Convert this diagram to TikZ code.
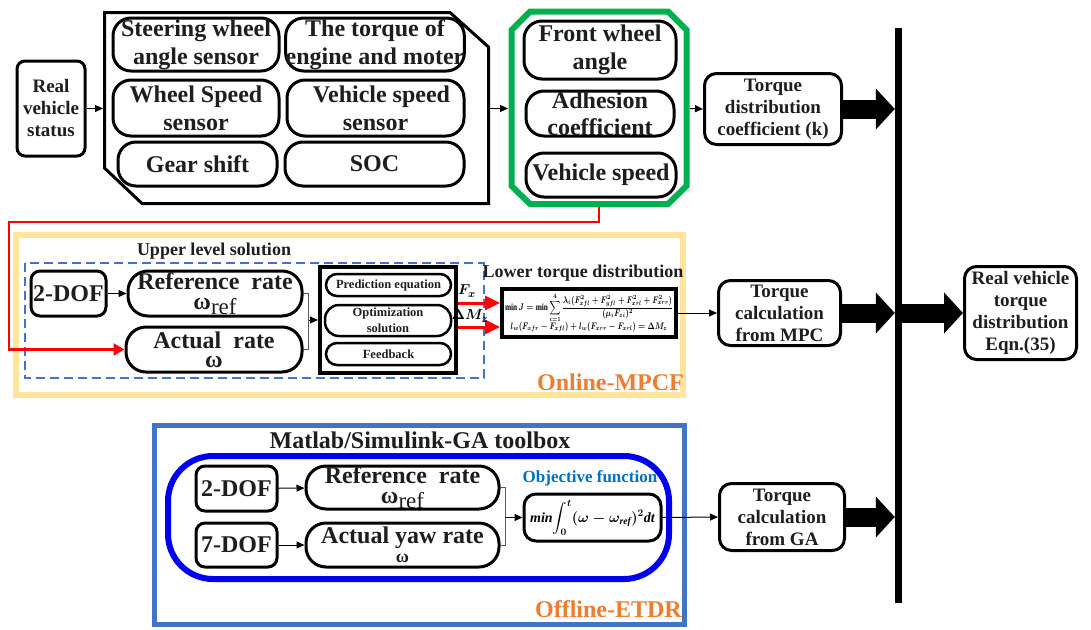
\documentclass[tikz,border=0pt]{standalone}
\usepackage{amsmath}
\usepackage{graphicx}
\usepackage{fontspec}
\setmainfont{Liberation Serif}
\usetikzlibrary{arrows.meta,calc}
\definecolor{txt}{HTML}{1E1E1E}
\definecolor{grn}{HTML}{00B050}
\definecolor{org}{HTML}{ED7D31}
\definecolor{pale}{HTML}{FFE699}
\definecolor{bln}{HTML}{4472C4}
\definecolor{objb}{HTML}{0070C0}
\definecolor{deepb}{HTML}{0000F0}
\newcommand\fsz[2]{\fontsize{#1}{#2}\selectfont}
\newcommand\omref{{\fsz{24}{24}ω}\raisebox{-5pt}{\normalfont\fsz{23}{23}ref}}
\newsavebox\mpcbox
\newsavebox\gabox
\newsavebox\fxbox
\newsavebox\dmbox
\tikzset{
  box/.style={draw=black, line width=3pt, rounded corners=#1, align=center, text=txt, inner sep=0pt},
  box/.default=18pt,
  fbig/.style={font=\bfseries\fsz{24}{28}},
  fmid/.style={font=\bfseries\fsz{19}{22}},
  fsmall/.style={font=\bfseries\fsz{12.5}{15}},
  arr/.style={line width=1pt, -{Triangle[length=8pt,width=7pt]}},
  fat/.style={line width=19pt, -{Triangle[length=19pt,width=40pt]}},
  redarr/.style={red, line width=3pt, -{Triangle[length=15pt,width=14pt]}},
  lab/.style={text=txt, inner sep=0pt},
}
\begin{document}
\sbox\mpcbox{\resizebox*{168pt}{40pt}{\fsz{9}{10}\boldmath\begin{tabular}{@{}c@{}}%
$\displaystyle \min J=\min\sum_{i=1}^{4}\frac{\lambda_i(F_{xfl}^2+F_{yfl}^2+F_{xrl}^2+F_{xrr}^2)}{(\mu_i F_{zi})^2}$\\[2pt]
$l_w(F_{xfr}-F_{xfl})+l_w(F_{xrr}-F_{xrl})=\Delta M_z$%
\end{tabular}}}%
\sbox\gabox{\fsz{14}{14}\boldmath$\displaystyle \mathit{min}\!\int_{0}^{t}(\omega-\omega_{\mathit{ref}})^{2}\mathit{dt}$}%
\sbox\fxbox{\fsz{15}{15}\boldmath$F_{x}$}%
\sbox\dmbox{\fsz{15}{15}\boldmath$\Delta M_{z}$}%
\begin{tikzpicture}[x=1pt,y=-1pt]
\useasboundingbox (0,0) rectangle (1091,629);
\fill[white] (0,0) rectangle (1091,629);

% ---------- top ----------
\node[box=8pt,fmid,minimum width=68pt,minimum height=95pt] (rvs) at (51,108.5) {Real\\vehicle\\status};
\draw[line width=3pt, line join=miter] (104.5,12.5) -- (450,12.5) -- (488.5,47) -- (488.5,203.5) -- (142,203.5) -- (104.5,168) -- cycle;
\coordinate (polyW) at (103,108.5);
\coordinate (polyE) at (490,108.5);

\node[box=18pt,fbig,minimum width=166pt,minimum height=53pt] (sw) at (196,44.5) {Steering wheel\\angle sensor};
\node[box=18pt,fbig,minimum width=178pt,minimum height=53pt] (tq) at (375,44.5) {The torque of\\engine and moter};
\node[box=18pt,fbig,minimum width=166pt,minimum height=56pt] (ws) at (196,108) {Wheel Speed\\sensor};
\node[box=18pt,fbig,minimum width=177pt,minimum height=56pt] (vs) at (375.5,108) {\ \ Vehicle speed\\sensor};
\node[box=18pt,fbig,minimum width=159pt,minimum height=44pt] (gs) at (197.5,164) {Gear shift};
\node[box=18pt,fbig,minimum width=179pt,minimum height=44pt] (soc) at (374.5,164) {SOC};

\draw[arr] (rvs.east) -- (polyW);

\draw[grn, line width=6pt, line join=miter] (530,11.5) -- (668,11.5) -- (686.5,30) -- (686.5,186) -- (668,204) -- (530,204) -- (511.5,186) -- (511.5,30) -- cycle;
\coordinate (grW) at (508,108.5);
\coordinate (grE) at (690,108.5);
\coordinate (grS) at (599,207);
\draw[arr] (polyE) -- (grW);

\node[box=18pt,fbig,minimum width=152pt,minimum height=58pt] (fwa) at (600,50) {Front wheel\\angle};
\node[box=18pt,font=\bfseries\fsz{24}{27},minimum width=148pt,minimum height=45pt] (adh) at (600,113.5) {Adhesion\\coefficient};
\node[box=18pt,fbig,minimum width=150pt,minimum height=44pt] (vsp) at (601,175) {Vehicle speed};

\node[box=12pt,fmid,minimum width=137pt,minimum height=71pt] (tdc) at (773,109) {Torque\\distribution\\coefficient (k)};
\draw[arr] (grE) -- (tdc.west);

\node[fill=black, minimum width=7pt, minimum height=575pt, inner sep=0pt] (bar) at (898.5,315.5) {};
\draw[fat] (tdc.east) -- (tdc.east -| bar.west);

% ---------- middle ----------
\draw[pale, line width=6pt] (16,235) rectangle (683,395);
\draw[bln, line width=1.5pt, dash pattern=on 9pt off 5pt] (25,263) rectangle (484,378);
\node[lab,font=\bfseries\fsz{18}{18}] (uls) at (214,251) {Upper level solution};

\node[box=9pt,fbig,minimum width=75pt,minimum height=45pt] (dof1) at (68.5,293.5) {2-DOF};
\node[box=20pt,font=\bfseries\fsz{24}{20},minimum width=174pt,minimum height=45pt] (ref1) at (215,293.5) {Reference\ \ rate\\\omref};
\node[box=20pt,font=\bfseries\fsz{24}{19},minimum width=176pt,minimum height=45pt] (act1) at (214,349.5) {Actual\ \ rate\\ω};
\draw[arr] (dof1) -- (ref1);

\node[draw, line width=4pt, minimum width=136pt, minimum height=106pt, inner sep=0pt] (mpc) at (388,320) {};
\node[box=11pt, line width=2.5pt, fsmall, minimum width=125pt, minimum height=22pt] (pe) at (388.5,285) {Prediction equation};
\node[box=14pt, line width=2.5pt, font=\bfseries\fsz{12.5}{16}, minimum width=126pt, minimum height=31pt] (opt) at (388,320.5) {Optimization\\solution};
\node[box=11pt, line width=2.5pt, fsmall, minimum width=125pt, minimum height=22pt] (fb) at (388.5,354) {Feedback};

\draw[gray!70!black, line width=0.8pt] (ref1.east) -- ++(5,0) coordinate (b1) -- (b1 |- act1.east) -- (act1.east);
\draw[arr] (b1 |- mpc.west) -- (mpc.west);

\node[lab,font=\bfseries\fsz{18}{18}] (ltd) at (583,273) {Lower torque distribution};
\node[draw, line width=4pt, minimum width=174pt, minimum height=48pt, inner sep=1pt] (form1) at (589,313) {\usebox\mpcbox};

\draw[redarr] (mpc.east |- 0,303) -- (form1.west |- 0,303);
\draw[redarr] (mpc.east |- 0,327) -- (form1.west |- 0,327);
\node[lab] (fx) at (467,291) {\usebox\fxbox};
\node[lab] (dmz) at (470,316) {\usebox\dmbox};

\node[box=12pt,fmid,minimum width=122pt,minimum height=65pt] (mpcT) at (779.5,313) {Torque\\calculation\\from MPC};
\draw[arr] (form1.east) -- (mpcT.west);
\draw[fat] (mpcT.east) -- (mpcT.east -| bar.west);

\node[box=12pt,fmid,minimum width=112pt,minimum height=93pt] (rvtd) at (1020.5,313) {Real vehicle\\torque\\distribution\\Eqn.(35)};
\draw[fat] (bar.east |- rvtd.west) -- (rvtd.west);

\node[lab,font=\bfseries\fsz{24}{24}, text=org, anchor=east] (onl) at (684,382) {Online-MPCF};

\coordinate (rc) at (9,222);
\draw[red, line width=2.5pt, -{Triangle[length=11pt,width=12pt]}] (grS) |- (rc) |- (act1.west);

% ---------- bottom ----------
\draw[bln, line width=5pt] (154.5,425.5) rectangle (684.5,624.5);
\node[lab,fbig] (mat) at (420,440) {Matlab/Simulink-GA toolbox};
\draw[deepb, line width=6pt, rounded corners=45pt] (168,456) rectangle (669,579);

\node[box=9pt,fbig,minimum width=81pt,minimum height=45pt] (dof2) at (236.5,488.5) {2-DOF};
\node[box=9pt,fbig,minimum width=81pt,minimum height=44pt] (dof7) at (236.5,545) {7-DOF};
\node[box=20pt,font=\bfseries\fsz{24}{20},minimum width=193pt,minimum height=43pt] (ref2) at (402.5,487.5) {Reference\ \ rate\\\omref};
\node[box=20pt,font=\bfseries\fsz{24}{19},minimum width=193pt,minimum height=44pt] (act2) at (402.5,545) {Actual yaw rate\\{\fsz{18}{18}ω}};
\draw[arr] (dof2) -- (ref2);
\draw[arr] (dof7) -- (act2);

\draw[gray!70!black, line width=0.8pt] (ref2.east) -- ++(5,0) coordinate (b2) -- (b2 |- act2.east) -- (act2.east);
\node[box=12pt, minimum width=137pt, minimum height=47pt] (form2) at (592.5,517.5) {\usebox\gabox};
\draw[arr] (b2 |- form2.west) -- (form2.west);
\node[lab,font=\bfseries\fsz{17}{17}, text=objb] (obj) at (590,478) {Objective function};

\node[box=12pt,fmid,minimum width=125pt,minimum height=67pt] (gaT) at (782,517) {Torque\\calculation\\from GA};
\draw[arr] (form2.east) -- (gaT.west);
\draw[fat] (gaT.east) -- (gaT.east -| bar.west);

\node[lab,font=\bfseries\fsz{24}{24}, text=org, anchor=east] (off) at (682,609) {Offline-ETDR};
\end{tikzpicture}
\end{document}
